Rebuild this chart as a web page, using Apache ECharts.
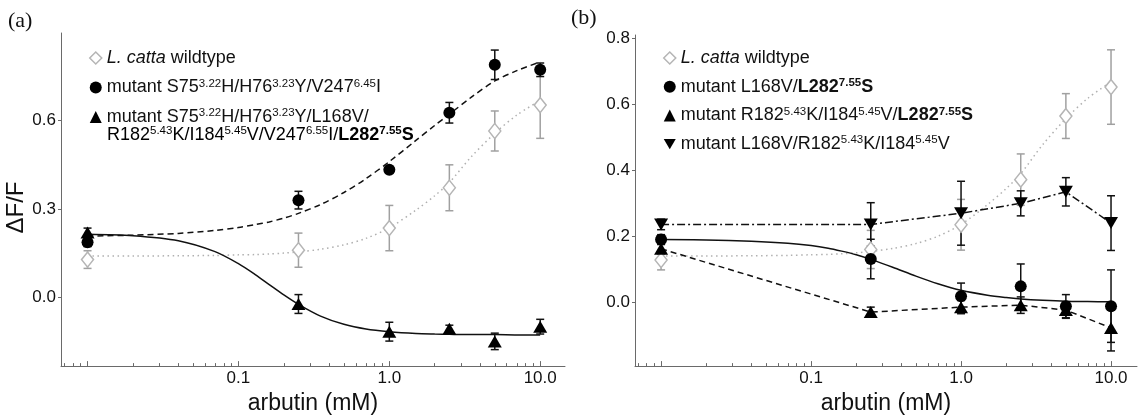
<!DOCTYPE html>
<html>
<head>
<meta charset="utf-8">
<script src="https://cdn.jsdelivr.net/npm/echarts@6/dist/echarts.min.js"></script>
<style>
html,body{margin:0;padding:0;background:#fff}
#chart{width:1142px;height:420px}
</style>
</head>
<body>
<div id="chart"></div>
<script>
// arbutin doses (mM)
var doses = [0.01, 0.25, 1, 2.5, 5, 10];

// L. catta wildtype (same points in both panels)
var wildMean = [0.128, 0.160, 0.235, 0.372, 0.565, 0.653];
var wildErr  = [0.030, 0.058, 0.077, 0.078, 0.068, 0.113];

// panel (a)
var mutA1Mean = [0.187, 0.330, 0.433, 0.627, 0.790, 0.773];
var mutA1Err  = [0.015, 0.030, 0.010, 0.035, 0.050, 0.023];
var mutA2Mean = [0.220, -0.023, -0.117, -0.107, -0.150, -0.100];
var mutA2Err  = [0.015, 0.032, 0.032, 0.012, 0.028, 0.025];

// panel (b)
var mutB1Mean = [0.190, 0.131, 0.018, 0.048, -0.012, -0.012];
var mutB1Err  = [0.015, 0.060, 0.040, 0.068, 0.035, 0.110];
var mutB2Mean = [0.162, -0.030, -0.015, -0.009, -0.024, -0.078];
var mutB2Err  = [0.015, 0.015, 0.020, 0.025, 0.025, 0.070];
var mutB3Mean = [0.236, 0.236, 0.270, 0.300, 0.335, 0.240];
var mutB3Err  = [0.016, 0.066, 0.097, 0.038, 0.043, 0.083];

// fitted curves
var fitDoses = [0.01, 0.02, 0.04, 0.07, 0.1, 0.13, 0.16, 0.2, 0.25, 0.35, 0.5, 0.7, 1, 1.5, 2, 2.5, 3.5, 5, 7, 10];
var fitWild  = [0.140, 0.140, 0.141, 0.142, 0.144, 0.145, 0.147, 0.150, 0.154, 0.163, 0.178, 0.200, 0.236, 0.296, 0.345, 0.390, 0.478, 0.557, 0.619, 0.669];
var fitA1    = [0.208, 0.211, 0.217, 0.227, 0.237, 0.247, 0.256, 0.269, 0.285, 0.315, 0.356, 0.403, 0.461, 0.533, 0.584, 0.622, 0.680, 0.735, 0.770, 0.800];
var fitA2    = [0.214, 0.209, 0.192, 0.155, 0.114, 0.076, 0.043, 0.008, -0.024, -0.064, -0.092, -0.108, -0.117, -0.123, -0.125, -0.126, -0.127, -0.127, -0.128, -0.128];
var fitB1    = [0.190, 0.189, 0.185, 0.179, 0.172, 0.164, 0.155, 0.144, 0.130, 0.106, 0.079, 0.056, 0.036, 0.021, 0.014, 0.010, 0.006, 0.003, 0.002, 0.001];

// axis ticks
var xMajorTicks = [0.01, 0.1, 1, 10];
var xLabelTicks = [0.1, 1, 10];
var xMinorTicks = [0.007, 0.008, 0.009, 0.02, 0.03, 0.04, 0.05, 0.06, 0.07, 0.08, 0.09,
                   0.2, 0.3, 0.4, 0.5, 0.6, 0.7, 0.8, 0.9, 2, 3, 4, 5, 6, 7, 8, 9];
var yTicksA = [0, 0.3, 0.6];
var yTicksB = [0, 0.2, 0.4, 0.6, 0.8];

var font = "'Liberation Sans', Arial, sans-serif";
var axisColor = '#6a6a6a';
var downTri = 'path://M0,0L20,0L10,17Z';

function pairs(xs, ys) {
    return xs.map(function (x, i) { return [x, ys[i]]; });
}
function bars(mean, err) {
    return doses.map(function (x, i) { return [x, mean[i] - err[i], mean[i] + err[i]]; });
}
function errRender(params, api) {
    var x = api.value(0);
    var p1 = api.coord([x, api.value(2)]);
    var p2 = api.coord([x, api.value(1)]);
    var w = 4;
    var st = {stroke: api.visual('color'), lineWidth: 1.5};
    return {type: 'group', children: [
        {type: 'line', shape: {x1: p1[0], y1: p1[1], x2: p2[0], y2: p2[1]}, style: st},
        {type: 'line', shape: {x1: p1[0] - w, y1: p1[1], x2: p1[0] + w, y2: p1[1]}, style: st},
        {type: 'line', shape: {x1: p2[0] - w, y1: p2[1], x2: p2[0] + w, y2: p2[1]}, style: st}
    ]};
}
function errSeries(axis, mean, err, color) {
    return {type: 'custom', xAxisIndex: axis * 2, yAxisIndex: axis, renderItem: errRender,
        itemStyle: {color: color}, data: bars(mean, err), z: 3, silent: true};
}
function fitLine(axis, xs, ys, color, dash, smooth) {
    return {type: 'line', xAxisIndex: axis * 2, yAxisIndex: axis, data: pairs(xs, ys),
        symbol: 'none', smooth: smooth, z: 2, silent: true,
        lineStyle: {color: color, width: 1.5, type: dash}};
}
function points(axis, name, mean, symbol, size, style) {
    return {type: 'scatter', name: name, xAxisIndex: axis * 2, yAxisIndex: axis,
        data: pairs(doses, mean), symbol: symbol, symbolSize: size, itemStyle: style, z: 5};
}

var rich = {
    n: {fontFamily: font, fontSize: 18, lineHeight: 20, color: '#111'},
    i: {fontFamily: font, fontSize: 18, lineHeight: 20, color: '#111', fontStyle: 'italic'},
    b: {fontFamily: font, fontSize: 18, lineHeight: 20, color: '#111', fontWeight: 'bold'},
    s: {fontFamily: font, fontSize: 11.5, lineHeight: 13, color: '#111', verticalAlign: 'top'},
    sb: {fontFamily: font, fontSize: 11.5, lineHeight: 13, color: '#111', fontWeight: 'bold', verticalAlign: 'top'}
};
var legendText = {
    wtA: '{i|L. catta}{n| wildtype}',
    m1A: '{n|mutant S75}{s|3.22}{n|H/H76}{s|3.23}{n|Y/V247}{s|6.45}{n|I}',
    m2A: '{n|mutant S75}{s|3.22}{n|H/H76}{s|3.23}{n|Y/L168V/}',
    wtB: '{i|L. catta}{n| wildtype}',
    m1B: '{n|mutant L168V/}{b|L282}{sb|7.55}{b|S}',
    m2B: '{n|mutant R182}{s|5.43}{n|K/I184}{s|5.45}{n|V/}{b|L282}{sb|7.55}{b|S}',
    m3B: '{n|mutant L168V/R182}{s|5.43}{n|K/I184}{s|5.45}{n|V}'
};
var wildStyle = {color: '#fff', borderColor: '#b5b5b5', borderWidth: 1.5, opacity: 1};
var blackStyle = {color: '#000', opacity: 1};

function xMain(grid, min, max) {
    return {type: 'log', gridIndex: grid, min: min, max: max,
        name: 'arbutin (mM)', nameLocation: 'middle', nameGap: 19,
        nameTextStyle: {fontFamily: font, fontSize: 23, color: '#111'},
        axisLine: {onZero: false, lineStyle: {color: axisColor, width: 1}},
        axisTick: {inside: true, length: 5, customValues: xMajorTicks, lineStyle: {color: axisColor}},
        axisLabel: {customValues: xLabelTicks, margin: 4, fontFamily: font, fontSize: 17, color: '#111',
            formatter: function (v) { return Number(v).toFixed(1); }},
        splitLine: {show: false}, minorTick: {show: false}};
}
function xMinor(grid, min, max) {
    return {type: 'log', gridIndex: grid, min: min, max: max, position: 'bottom',
        axisLine: {show: false, onZero: false},
        axisTick: {inside: true, length: 3, customValues: xMinorTicks, lineStyle: {color: axisColor}},
        axisLabel: {show: false}, splitLine: {show: false}};
}
function yAxis(grid, min, max, ticks) {
    return {type: 'value', gridIndex: grid, min: min, max: max,
        axisLine: {show: true, onZero: false, lineStyle: {color: axisColor, width: 1}},
        axisTick: {show: true, length: 3, customValues: ticks, lineStyle: {color: axisColor}},
        axisLabel: {customValues: ticks, margin: 5, fontFamily: font, fontSize: 17, color: '#111',
            formatter: function (v) { return Number(v).toFixed(1); }},
        splitLine: {show: false}};
}

var yA = yAxis(0, -0.234, 0.898, yTicksA);
yA.name = 'ΔF/F';
yA.nameLocation = 'middle';
yA.nameGap = 33;
yA.nameTextStyle = {fontFamily: font, fontSize: 24, color: '#111', padding: [0, 16, 0, 0]};

var option = {
    animation: false,
    backgroundColor: '#fff',
    grid: [
        {left: 61, right: 577, top: 33, bottom: 47},
        {left: 635, right: 5, top: 35, bottom: 48}
    ],
    xAxis: [xMain(0, 0.00667, 14.6), xMinor(0, 0.00667, 14.6), xMain(1, 0.0067, 14.9), xMinor(1, 0.0067, 14.9)],
    yAxis: [yA, yAxis(1, -0.194, 0.811, yTicksB)],
    legend: [{
        orient: 'vertical', left: 84, top: 43, itemWidth: 12, itemHeight: 12, itemGap: 9.5,
        selectedMode: false,
        data: [{name: 'wtA', icon: 'diamond', itemStyle: wildStyle},
               {name: 'm1A', icon: 'circle'},
               {name: 'm2A', icon: 'triangle'}],
        formatter: function (n) { return legendText[n]; },
        textStyle: {fontFamily: font, fontSize: 18, lineHeight: 20, rich: rich}
    }, {
        orient: 'vertical', left: 658, top: 43, itemWidth: 12, itemHeight: 12, itemGap: 8.7,
        selectedMode: false,
        data: [{name: 'wtB', icon: 'diamond', itemStyle: wildStyle},
               {name: 'm1B', icon: 'circle'},
               {name: 'm2B', icon: 'triangle'},
               {name: 'm3B', icon: downTri}],
        formatter: function (n) { return legendText[n]; },
        textStyle: {fontFamily: font, fontSize: 18, lineHeight: 20, rich: rich}
    }],
    graphic: [
        {type: 'text', left: 8, top: 10, style: {text: '(a)', fontFamily: "'Liberation Serif', 'Times New Roman', serif", fontSize: 22, fill: '#111'}},
        {type: 'text', left: 571, top: 7, style: {text: '(b)', fontFamily: "'Liberation Serif', 'Times New Roman', serif", fontSize: 22, fill: '#111'}},
        {type: 'text', left: 107, top: 125, style: {
            text: '{n|R182}{s|5.43}{n|K/I184}{s|5.45}{n|V/V247}{s|6.55}{n|I/}{b|L282}{sb|7.55}{b|S}',
            rich: rich, fontFamily: font, fontSize: 18}}
    ],
    series: [
        // (a)
        fitLine(0, fitDoses, fitWild, '#b0b0b0', [1.5, 3.5], 0.3),
        fitLine(0, fitDoses, fitA1, '#111', [6, 4], 0.3),
        fitLine(0, fitDoses, fitA2, '#111', 'solid', 0.3),
        errSeries(0, wildMean, wildErr, '#a0a0a0'),
        errSeries(0, mutA1Mean, mutA1Err, '#111'),
        errSeries(0, mutA2Mean, mutA2Err, '#111'),
        points(0, 'wtA', wildMean, 'diamond', [12, 15], wildStyle),
        points(0, 'm1A', mutA1Mean, 'circle', 12, blackStyle),
        points(0, 'm2A', mutA2Mean, 'triangle', [14, 12], blackStyle),
        // (b)
        fitLine(1, fitDoses, fitWild, '#b0b0b0', [1.5, 3.5], 0.3),
        fitLine(1, fitDoses, fitB1, '#111', 'solid', 0.3),
        fitLine(1, doses, mutB2Mean, '#111', [6, 4], false),
        fitLine(1, doses, mutB3Mean, '#111', [8, 3, 2, 3], false),
        errSeries(1, wildMean, wildErr, '#a0a0a0'),
        errSeries(1, mutB1Mean, mutB1Err, '#111'),
        errSeries(1, mutB2Mean, mutB2Err, '#111'),
        errSeries(1, mutB3Mean, mutB3Err, '#111'),
        points(1, 'wtB', wildMean, 'diamond', [12, 15], wildStyle),
        points(1, 'm1B', mutB1Mean, 'circle', 12, blackStyle),
        points(1, 'm2B', mutB2Mean, 'triangle', [14, 12], blackStyle),
        points(1, 'm3B', mutB3Mean, downTri, [14, 12], blackStyle)
    ]
};

var myChart = echarts.init(document.getElementById('chart'));
myChart.setOption(option);
window.addEventListener('resize', function () { myChart.resize(); });
</script>
</body>
</html>
